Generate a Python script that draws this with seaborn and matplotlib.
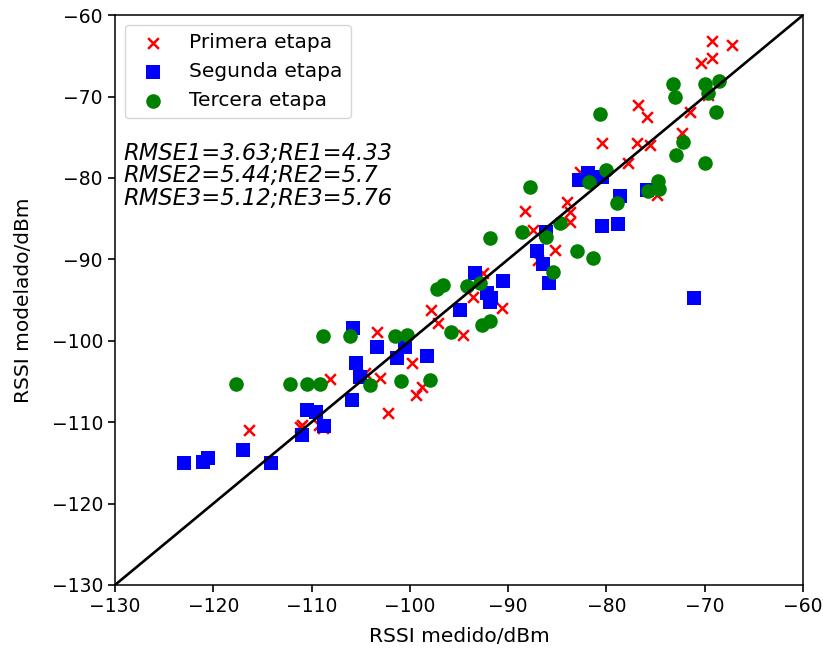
import matplotlib
matplotlib.use("Agg")
import matplotlib.pyplot as plt
import seaborn as sns
import pandas as pd

# Primera etapa (medido, modelado)
x1 = [-69.3, -67.2, -69.3, -70.4, -69.7, -76.8, -75.9, -71.5, -72.3, -76.9, -75.6, -80.4,
      -77.8, -82.7, -84.0, -83.7, -83.7, -88.3, -87.5, -85.2, -87.0, -92.6, -93.6, -90.6,
      -97.8, -97.1, -94.6, -103.3, -99.8, -103.0, -108.1, -98.8, -99.4, -102.2, -111.0,
      -108.8, -116.4, -111.2, -109.2, -74.9, -104.6]
y1 = [-63.2, -63.7, -65.3, -65.9, -69.8, -71.1, -72.5, -71.9, -74.5, -75.7, -76.0, -75.7,
      -78.2, -79.3, -83.0, -84.2, -85.4, -84.0, -86.4, -88.9, -90.1, -91.7, -94.6, -96.0,
      -96.2, -97.8, -99.3, -98.9, -102.7, -104.6, -104.7, -105.7, -106.7, -108.9, -110.4,
      -110.7, -111.0, -110.6, -110.3, -82.1, -103.9]

# Segunda etapa
x2 = [-123.0, -121.0, -120.5, -117.0, -114.1, -111.0, -110.5, -109.5, -108.7, -105.9,
      -105.1, -105.5, -105.8, -103.3, -101.3, -100.5, -98.3, -94.9, -91.8, -93.4, -92.1,
      -91.7, -90.5, -87.1, -86.5, -85.8, -86.1, -82.8, -81.9, -80.4, -78.6, -80.5, -78.8,
      -75.9, -71.1]
y2 = [-115.0, -114.9, -114.4, -113.4, -115.0, -111.6, -108.5, -108.7, -110.5, -107.3,
      -104.5, -102.7, -98.4, -100.8, -102.1, -100.8, -101.9, -96.2, -95.2, -91.7, -94.1,
      -94.8, -92.7, -89.0, -90.6, -92.9, -86.6, -80.3, -79.4, -79.9, -82.2, -85.9, -85.7,
      -81.5, -94.8]

# Tercera etapa
x3 = [-117.7, -112.2, -110.5, -109.1, -108.8, -106.1, -104.1, -101.5, -100.3, -100.9,
      -98.0, -95.8, -92.7, -91.8, -97.2, -96.6, -94.2, -92.9, -91.8, -88.6, -87.8, -86.1,
      -85.4, -84.7, -83.0, -81.4, -81.8, -80.0, -78.9, -80.7, -73.2, -73.0, -70.0, -68.5,
      -69.7, -68.9, -72.2, -72.9, -70.0, -74.8, -74.6, -75.8]
y3 = [-105.3, -105.3, -105.3, -105.3, -99.4, -99.4, -105.4, -99.4, -99.3, -104.9,
      -104.8, -98.9, -98.1, -97.6, -93.6, -93.1, -93.3, -92.9, -87.4, -86.6, -81.1, -87.3,
      -91.6, -85.5, -89.0, -89.8, -80.5, -79.0, -83.1, -72.2, -68.4, -70.1, -68.4, -68.1,
      -69.6, -71.9, -75.6, -77.2, -78.2, -80.4, -81.4, -81.6]

labels = ["Primera etapa", "Segunda etapa", "Tercera etapa"]
stats_text = "RMSE1=3.63;RE1=4.33\nRMSE2=5.44;RE2=5.7\nRMSE3=5.12;RE3=5.76"

df1 = pd.DataFrame({"medido": x1, "modelado": y1})
df2 = pd.DataFrame({"medido": x2, "modelado": y2})
df3 = pd.DataFrame({"medido": x3, "modelado": y3})

fig = plt.figure(figsize=(8.23, 6.52), dpi=100)
ax = fig.add_axes([0.1397, 0.1028, 0.836, 0.874])

sns.scatterplot(data=df1, x="medido", y="modelado", marker="x", color="red", s=60,
                linewidth=1.8, ax=ax, label=labels[0])
sns.scatterplot(data=df2, x="medido", y="modelado", marker="s", color="blue", s=90,
                linewidth=0, ax=ax, label=labels[1])
sns.scatterplot(data=df3, x="medido", y="modelado", marker="o", color="green", s=110,
                linewidth=0, ax=ax, label=labels[2])

ax.plot([-130, -60], [-130, -60], color="black", linewidth=1.9)

ax.set_xlim(-130, -60)
ax.set_ylim(-130, -60)
ax.set_xticks(range(-130, -59, 10))
ax.set_yticks(range(-130, -59, 10))
ax.set_xlabel("RSSI medido/dBm", fontsize=14.5, labelpad=8)
ax.set_ylabel("RSSI modelado/dBm", fontsize=14.5, labelpad=13)
ax.tick_params(labelsize=13.5, length=5.2, width=1.2)
for sp in ax.spines.values():
    sp.set_linewidth(1.1)

ax.legend(loc="upper left", fontsize=14.5, borderaxespad=0.5)
ax.text(0.012, 0.778, stats_text, transform=ax.transAxes, fontsize=16.3,
        fontstyle="italic", va="top", ha="left", linespacing=0.98)

fig.savefig("out.png", dpi=100)
